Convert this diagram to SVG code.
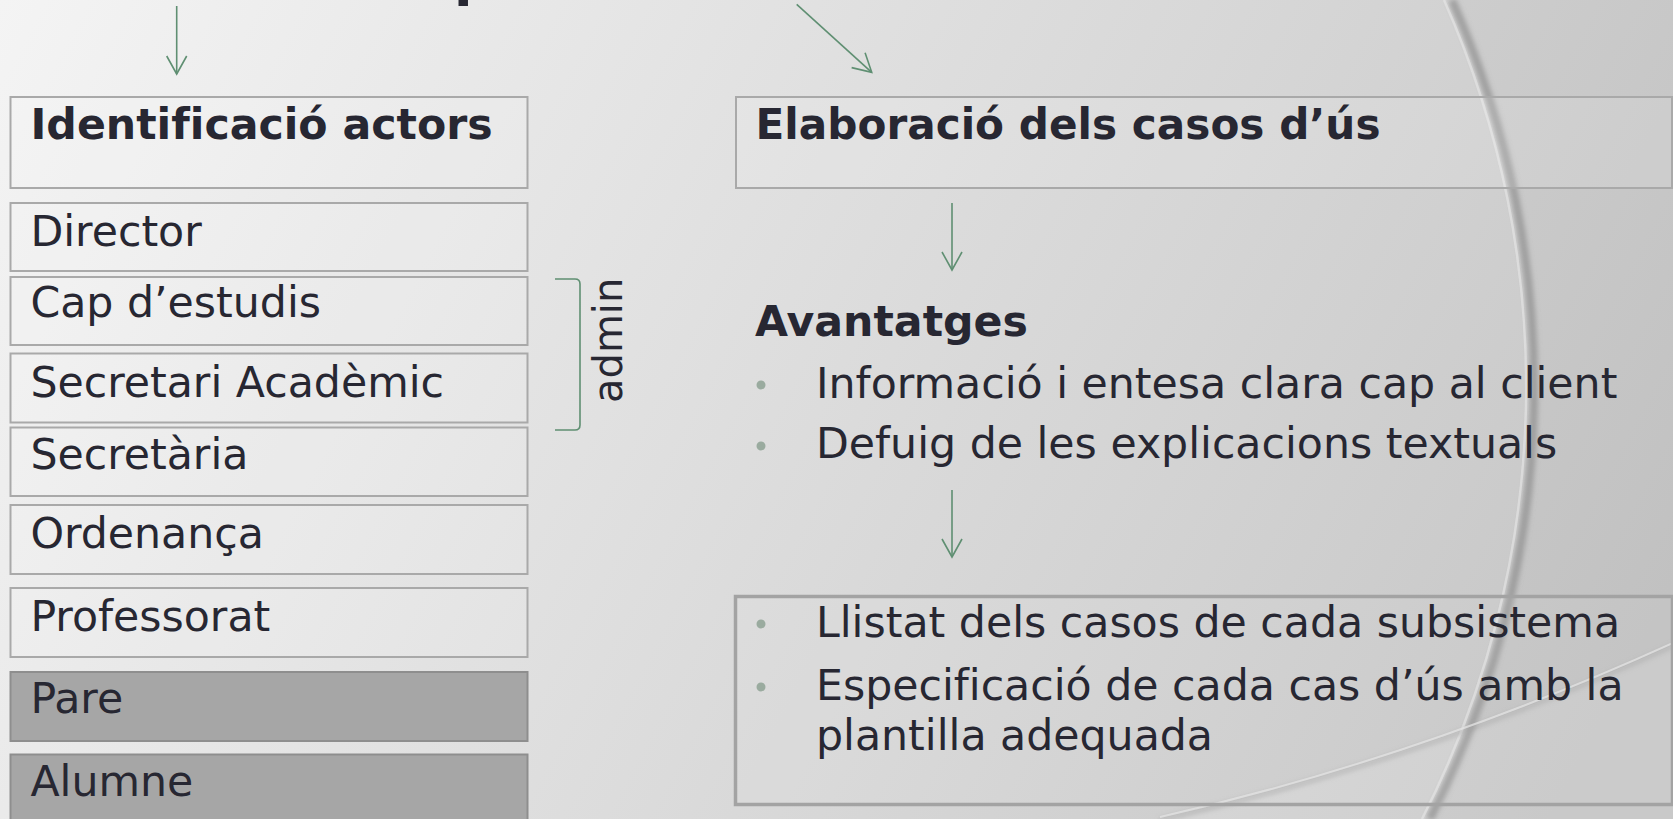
<svg xmlns="http://www.w3.org/2000/svg" width="1673" height="819" viewBox="0 0 1673 819">
<defs>
<linearGradient id="bg" gradientUnits="userSpaceOnUse" x1="0" y1="0" x2="1550" y2="819">
<stop offset="0" stop-color="#f4f4f4"/>
<stop offset="1" stop-color="#c6c6c6"/>
</linearGradient>
<filter id="soft" x="-10%" y="-10%" width="120%" height="120%"><feGaussianBlur stdDeviation="2.5"/></filter>
<marker id="ah" markerUnits="userSpaceOnUse" viewBox="-2 -12 24 24" refX="18" refY="0" markerWidth="24" markerHeight="24" orient="auto">
<path d="M0,-10 L18,0 L0,10" fill="none" stroke="#5f8f72" stroke-width="1.6"/>
</marker>
</defs>
<style>
.box{fill:#ffffff;fill-opacity:0.12;stroke:#a9a9a9;stroke-width:2}
.gbox{fill:#a6a6a6;stroke:#8e8e8e;stroke-width:2}
.bbox{fill:#ffffff;fill-opacity:0.05;stroke:#a3a3a3;stroke-width:3.5}
.t{font-family:"DejaVu Sans",Verdana,sans-serif;font-size:42.67px;fill:#272732;font-variant-ligatures:none}
.b{font-weight:bold}
.conn{stroke:#5f8f72;stroke-width:1.6;fill:none}
.bul{fill:#9aab9f}
</style>
<g id="background">
<rect x="0" y="0" width="1673" height="819" fill="url(#bg)"/>
<path d="M1447,0 A950,950 0 0 1 1425,819 L1673,819 L1673,0 Z" fill="#000000" fill-opacity="0.025"/>
<path d="M1673,645 Q1420,760 1160,819 L1673,819 Z" fill="#ffffff" fill-opacity="0.14"/>
<path d="M1452,0 A950,950 0 0 1 1430,819" fill="none" stroke="#888888" stroke-width="8" stroke-opacity="0.65" filter="url(#soft)"/>
<path d="M1444,0 A950,950 0 0 1 1422,819" fill="none" stroke="#e8e8e8" stroke-width="2.5" stroke-opacity="0.6"/>
<path d="M1673,646 Q1420,761 1160,820" fill="none" stroke="#9a9a9a" stroke-width="4" stroke-opacity="0.55" filter="url(#soft)"/>
<path d="M1673,643 Q1420,758 1160,817" fill="none" stroke="#e4e4e4" stroke-width="2" stroke-opacity="0.75"/>
</g>
<g id="title">
<text class="t b" style="font-size:54px" x="454" y="-5">p</text>
</g>
<g id="connectors">
<line class="conn" x1="176.7" y1="6" x2="176.7" y2="74" marker-end="url(#ah)"/>
<line class="conn" x1="796.7" y1="4.3" x2="871.7" y2="72.3" marker-end="url(#ah)"/>
<line class="conn" x1="952" y1="203" x2="952" y2="270" marker-end="url(#ah)"/>
<line class="conn" x1="952" y1="490" x2="952" y2="557" marker-end="url(#ah)"/>
<path class="conn" d="M555,279 L575,279 Q580,279 580,284 L580,425 Q580,430 575,430 L555,430"/>
</g>
<g id="node-identificacio">
<rect class="box" x="10.5" y="97" width="517" height="91"/>
<text class="t b" x="30.5" y="139">Identificació actors</text>
</g>
<g id="node-director">
<rect class="box" x="10.5" y="203" width="517" height="68"/>
<text class="t" x="30.4" y="246">Director</text>
</g>
<g id="node-cap">
<rect class="box" x="10.5" y="277" width="517" height="68"/>
<text class="t" x="30.4" y="317.3">Cap d’estudis</text>
</g>
<g id="node-secretari">
<rect class="box" x="10.5" y="353.5" width="517" height="69"/>
<text class="t" x="30.4" y="396.7">Secretari Acadèmic</text>
</g>
<g id="node-secretaria">
<rect class="box" x="10.5" y="427.5" width="517" height="68.5"/>
<text class="t" x="30.4" y="469.3">Secretària</text>
</g>
<g id="node-ordenanca">
<rect class="box" x="10.5" y="505" width="517" height="69"/>
<text class="t" x="30.4" y="548.3">Ordenança</text>
</g>
<g id="node-professorat">
<rect class="box" x="10.5" y="588" width="517" height="69"/>
<text class="t" x="30.4" y="630.7">Professorat</text>
</g>
<g id="node-pare">
<rect class="gbox" x="10.5" y="672" width="517" height="69"/>
<text class="t" x="30.4" y="713.3">Pare</text>
</g>
<g id="node-alumne">
<rect class="gbox" x="10.5" y="754.5" width="517" height="69"/>
<text class="t" x="30.4" y="796">Alumne</text>
</g>
<g id="label-admin">
<text class="t" style="font-size:40px" transform="translate(621.7,403) rotate(-90)">admin</text>
</g>
<g id="node-elaboracio">
<rect class="box" x="736" y="97" width="936" height="91"/>
<text class="t b" x="755.5" y="139" textLength="625" lengthAdjust="spacingAndGlyphs">Elaboració dels casos d’ús</text>
</g>
<g id="node-avantatges">
<text class="t b" x="755" y="336">Avantatges</text>
<circle class="bul" cx="761" cy="385" r="4.5"/>
<text class="t" x="816" y="398">Informació i entesa clara cap al client</text>
<circle class="bul" cx="761" cy="446" r="4.5"/>
<text class="t" x="816" y="458">Defuig de les explicacions textuals</text>
</g>
<g id="node-llistat">
<rect class="bbox" x="735.5" y="596.5" width="937" height="208"/>
<circle class="bul" cx="761" cy="624" r="4.5"/>
<text class="t" x="816" y="637">Llistat dels casos de cada subsistema</text>
<circle class="bul" cx="761" cy="687" r="4.5"/>
<text class="t" x="816" y="700">Especificació de cada cas d’ús amb la</text>
<text class="t" x="816" y="750">plantilla adequada</text>
</g>
</svg>
